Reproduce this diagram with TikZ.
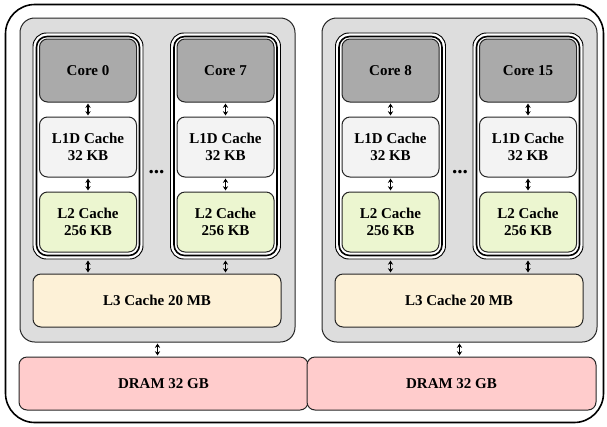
\documentclass[tikz,border=0pt]{standalone}
\usepackage{fontspec}
\setmainfont{Liberation Serif}
\usetikzlibrary{arrows.meta}
\definecolor{pkggray}{RGB}{221,221,221}
\definecolor{coregray}{RGB}{170,170,170}
\definecolor{lonefill}{RGB}{243,243,243}
\definecolor{ltwofill}{RGB}{236,246,208}
\definecolor{lthreefill}{RGB}{253,241,215}
\definecolor{dramfill}{RGB}{255,204,204}
\tikzset{
  sz/.style 2 args={minimum width=#1*0.75pt, minimum height=#2*0.75pt, inner sep=0pt},
  blk/.style={draw=black!85, line width=0.75pt, rounded corners=6pt, align=center,
    font=\fontsize{11.25}{13}\selectfont\bfseries},
  corebox/.style={blk, fill=coregray, sz={97}{63}},
  lonebox/.style={blk, fill=lonefill, sz={97}{60}},
  ltwobox/.style={blk, fill=ltwofill, sz={97}{60}},
  lthreebox/.style={blk, fill=lthreefill, sz={248}{53}},
  drambox/.style={blk, fill=dramfill, sz={289}{53}},
  colbox/.style={draw=black, line width=0.7pt, fill=white, rounded corners=10pt, sz={110}{226}},
  colinner/.style={draw=black, line width=1.2pt, rounded corners=8pt, sz={103}{219}},
  pkgbox/.style={draw=black!85, line width=0.75pt, fill=pkggray, rounded corners=11pt, sz={275}{324}},
  outerbox/.style={draw=black, line width=1.2pt, rounded corners=22pt, sz={598}{418}},
  link/.style={{Stealth[length=3.2pt,width=4pt]}-{Stealth[length=3.2pt,width=4pt]}, line width=0.8pt, shorten <=0.8pt, shorten >=0.8pt},
  dots/.style={font=\fontsize{16}{16}\selectfont\bfseries}
}
\begin{document}
\begin{tikzpicture}[x=0.75pt, y=-0.75pt]
\useasboundingbox (0,0) rectangle (607,426);
\node[outerbox] (outer) at (304.5,213.5) {};
% packages
\node[pkgbox] (pkgA) at (157.5,180) {};
\node[pkgbox] (pkgB) at (459.5,180) {};
% columns
\node[colbox] (colA) at (88,146) {};
\node[colbox] (colB) at (225.5,146) {};
\node[colbox] (colC) at (390.5,146) {};
\node[colbox] (colD) at (528,146) {};
\node[colinner] (colAi) at (88,146) {};
\node[colinner] (colBi) at (225.5,146) {};
\node[colinner] (colCi) at (390.5,146) {};
\node[colinner] (colDi) at (528,146) {};
% cores
\node[corebox] (coreA) at (88,70.5) {Core 0};
\node[corebox] (coreB) at (225.5,70.5) {Core 7};
\node[corebox] (coreC) at (390.5,70.5) {Core 8};
\node[corebox] (coreD) at (528,70.5) {Core 15};
% L1D
\node[lonebox] (loneA) at (88,147) {L1D Cache\\32 KB};
\node[lonebox] (loneB) at (225.5,147) {L1D Cache\\32 KB};
\node[lonebox] (loneC) at (390.5,147) {L1D Cache\\32 KB};
\node[lonebox] (loneD) at (528,147) {L1D Cache\\32 KB};
% L2
\node[ltwobox] (ltwoA) at (88,222) {L2 Cache\\256 KB};
\node[ltwobox] (ltwoB) at (225.5,222) {L2 Cache\\256 KB};
\node[ltwobox] (ltwoC) at (390.5,222) {L2 Cache\\256 KB};
\node[ltwobox] (ltwoD) at (528,222) {L2 Cache\\256 KB};
% L3
\node[lthreebox] (lthreeA) at (157,300.5) {L3 Cache 20 MB};
\node[lthreebox] (lthreeB) at (459,300.5) {L3 Cache 20 MB};
% DRAM
\node[drambox] (dramA) at (163.5,383.5) {DRAM 32 GB};
\node[drambox] (dramB) at (451.5,383.5) {DRAM 32 GB};
% dots
\node[dots] (dotsA) at (156.5,172) {...};
\node[dots] (dotsB) at (460,172) {...};
% links
\foreach \c in {A,B,C,D}{
  \draw[link] (core\c.south) -- (lone\c.north);
  \draw[link] (lone\c.south) -- (ltwo\c.north);
}
\draw[link] (colA.south) -- (colA.south |- lthreeA.north);
\draw[link] (colB.south) -- (colB.south |- lthreeA.north);
\draw[link] (colC.south) -- (colC.south |- lthreeB.north);
\draw[link] (colD.south) -- (colD.south |- lthreeB.north);
\draw[link] (pkgA.south) -- (pkgA.south |- dramA.north);
\draw[link] (pkgB.south) -- (pkgB.south |- dramB.north);
\end{tikzpicture}
\end{document}
